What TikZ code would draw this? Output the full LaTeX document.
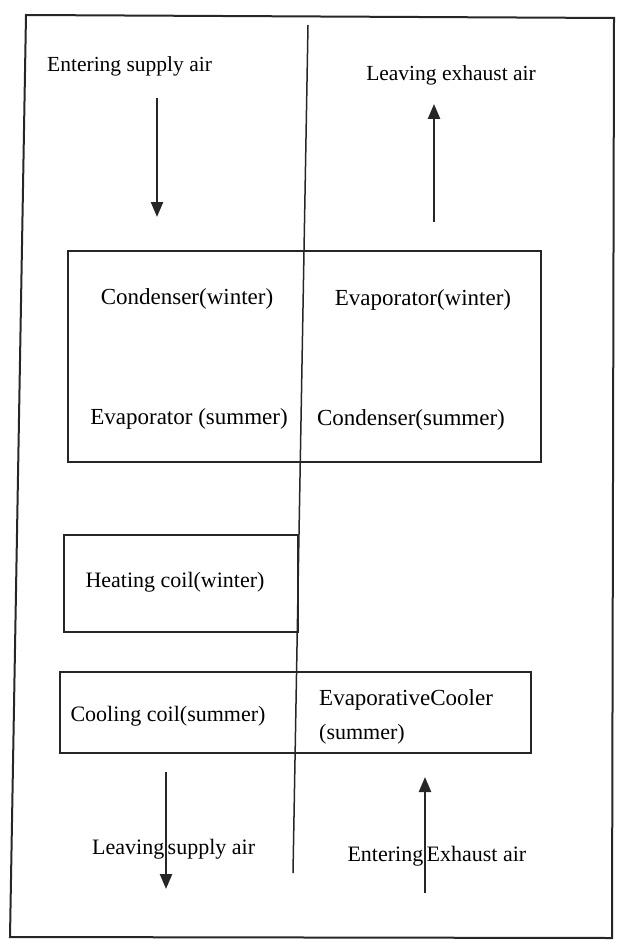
\documentclass[tikz,border=0pt]{standalone}
\usepackage{fontspec}
\setmainfont{Liberation Serif}
\usetikzlibrary{arrows.meta}
\begin{document}
\begin{tikzpicture}[x=1pt,y=-1pt,
  txt/.style={font=\fontsize{22}{26}\selectfont, inner sep=0pt, text=black},
  bigtxt/.style={txt, font=\fontsize{23}{27}\selectfont},
  toptxt/.style={txt, font=\fontsize{21.5}{25}\selectfont},
  frameline/.style={draw=black!85, line width=2pt},
  unitbox/.style={draw=black!85, line width=1.4pt},
  divline/.style={draw=black!85, line width=1.5pt},
  flow/.style={draw=black!85, line width=2.4pt, -{Triangle[length=15pt,width=12pt]}}]
\useasboundingbox (0,0) rectangle (624,944);
% outer frame
\draw[frameline] (26,15) -- (614,18) -- (612,938) -- (10,937) -- cycle;
% divider
\coordinate (dtop) at (308,25);
\coordinate (dbot) at (293,873);
\draw[divline] (dtop) -- (dbot);
% boxes
\draw[unitbox] (68,251) rectangle (541,462);
\draw[unitbox] (64,535) rectangle (298,632);
\draw[unitbox] (60,672) rectangle (531,753);
% top labels and arrows
\node[toptxt, anchor=west] (esa) at (47,66) {Entering supply air};
\node[toptxt, anchor=east] (lea) at (536,75) {Leaving exhaust air};
\coordinate (a1s) at (157,98);
\coordinate (a1e) at (157,217);
\draw[flow] (a1s) -- (a1e);
\coordinate (a2s) at (434,222);
\coordinate (a2e) at (434,104);
\draw[flow] (a2s) -- (a2e);
% heat pump box labels
\node[bigtxt] (cw) at (187,299) {Condenser(winter)};
\node[bigtxt] (ew) at (423,300) {Evaporator(winter)};
\node[bigtxt] (es) at (189,419) {Evaporator (summer)};
\node[bigtxt] (cs) at (411,420) {Condenser(summer)};
% heating coil
\node[txt] (hc) at (175,582) {Heating coil(winter)};
% cooling coil / evaporative cooler
\node[txt] (cc) at (168,716) {Cooling coil(summer)};
\node[bigtxt, anchor=west] (ec) at (319,700) {EvaporativeCooler};
\node[txt, anchor=west] (ecs) at (319,734) {(summer)};
% bottom labels and arrows
\coordinate (a3s) at (166,772);
\coordinate (a3e) at (166,889);
\node[txt, anchor=base east] (lsa1) at (164.5,854) {Leaving};
\node[txt, anchor=base west] (lsa2) at (167.5,854) {supply air};
\draw[flow] (a3s) -- (a3e);
\coordinate (a4s) at (425,893);
\coordinate (a4e) at (425,777);
\node[txt, anchor=base east] (eea1) at (423.5,861) {Entering};
\node[txt, anchor=base west] (eea2) at (426.5,861) {Exhaust air};
\draw[flow] (a4s) -- (a4e);
\end{tikzpicture}
\end{document}
